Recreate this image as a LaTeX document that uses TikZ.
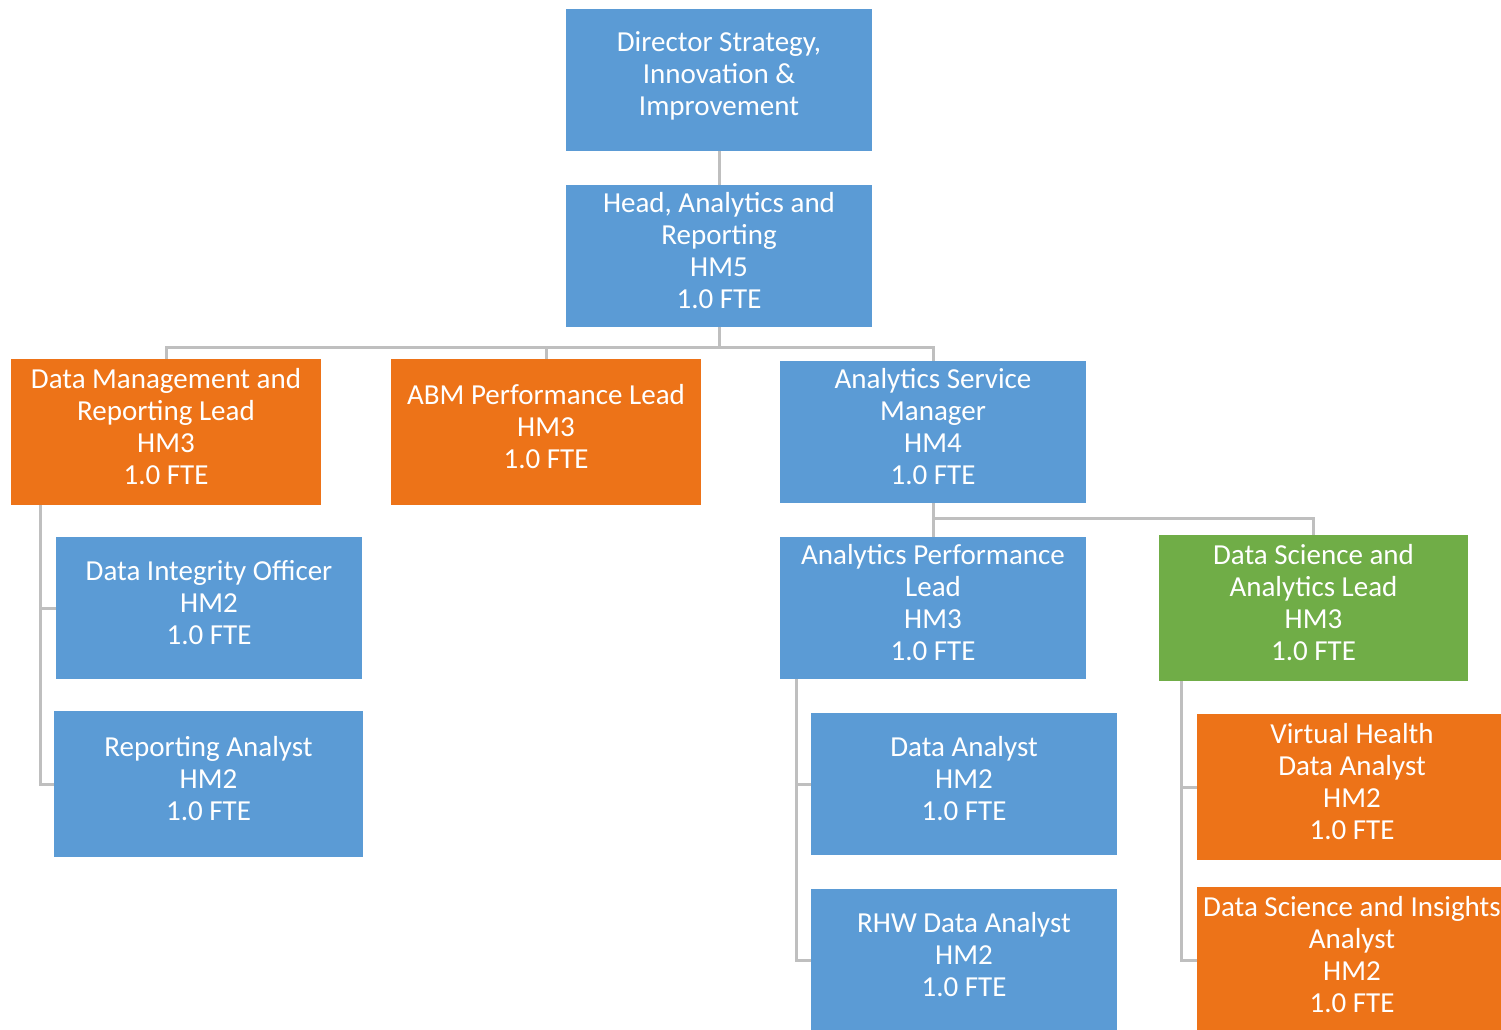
\documentclass[tikz,border=0pt]{standalone}
\usepackage{fontspec}
\setmainfont{Carlito}
\usetikzlibrary{positioning}
\definecolor{orgblue}{RGB}{91,155,213}
\definecolor{orgorange}{RGB}{237,115,24}
\definecolor{orggreen}{RGB}{112,173,71}
\definecolor{orgline}{RGB}{191,191,191}

\tikzset{
  role/.style={fill=orgblue, text=white, align=center, inner sep=0pt,
    minimum width=306, minimum height=142, text depth=12pt,
    font=\fontsize{29}{32}\selectfont},
  rolewide/.style={role, minimum width=310, minimum height=146},
  link/.style={draw=orgline, line width=3pt}
}

\begin{document}
\begin{tikzpicture}[x=1pt,y=-1pt]
  \useasboundingbox (0,0) rectangle (1501,1029);

  % top of the tree
  \node[role] (dir) at (719,80) {Director Strategy,\\Innovation \&\\Improvement};
  \node[role] (head) at (719,256) {Head, Analytics and\\Reporting\\HM5\\1.0 FTE};

  % second level
  \node[rolewide, fill=orgorange] (dml) at (166,432) {Data Management and\\Reporting Lead\\HM3\\1.0 FTE};
  \node[rolewide, fill=orgorange] (abm) at (546,432) {ABM Performance Lead\\HM3\\1.0 FTE};
  \node[role] (asm) at (933,432) {Analytics Service\\Manager\\HM4\\1.0 FTE};

  % data management team
  \node[role] (dio) at (209,608) {Data Integrity Officer\\HM2\\1.0 FTE};
  \node[rolewide, minimum width=309] (rep) at (208.5,784) {Reporting Analyst\\HM2\\1.0 FTE};

  % analytics service team
  \node[role] (apl) at (933,608) {Analytics Performance\\Lead\\HM3\\1.0 FTE};
  \node[rolewide, minimum width=309, fill=orggreen] (dsl) at (1313.5,608) {Data Science and\\Analytics Lead\\HM3\\1.0 FTE};
  \node[role] (da) at (964,784) {Data Analyst\\HM2\\1.0 FTE};
  \node[role] (rhw) at (964,960) {RHW Data Analyst\\HM2\\1.0 FTE};
  \node[rolewide, fill=orgorange] (vh) at (1352,787) {Virtual Health\\Data Analyst\\HM2\\1.0 FTE};
  \node[rolewide, fill=orgorange] (dsi) at (1352,960) {Data Science and Insights\\Analyst\\HM2\\1.0 FTE};

  % connectors
  \coordinate (hbus) at (719,347);
  \coordinate (abus) at (933,518);
  \draw[link] (dir.south) -- (head.north);
  \draw[link] (head.south) -- (hbus);
  \draw[link] (dml.north) |- (hbus);
  \draw[link] (abm.north) |- (hbus);
  \draw[link] (asm.north) |- (hbus);
  \draw[link] (asm.south) -- (abus);
  \draw[link] (apl.north) |- (abus);
  \draw[link] (dsl.north) |- (abus);
  \draw[link] ([xshift=-126]dml.south) |- (dio.west);
  \draw[link] ([xshift=-126]dml.south) |- (rep.west);
  \draw[link] ([xshift=-137]apl.south) |- (da.west);
  \draw[link] ([xshift=-137]apl.south) |- (rhw.west);
  \draw[link] ([xshift=-132.5]dsl.south) |- (vh.west);
  \draw[link] ([xshift=-132.5]dsl.south) |- (dsi.west);
\end{tikzpicture}
\end{document}
